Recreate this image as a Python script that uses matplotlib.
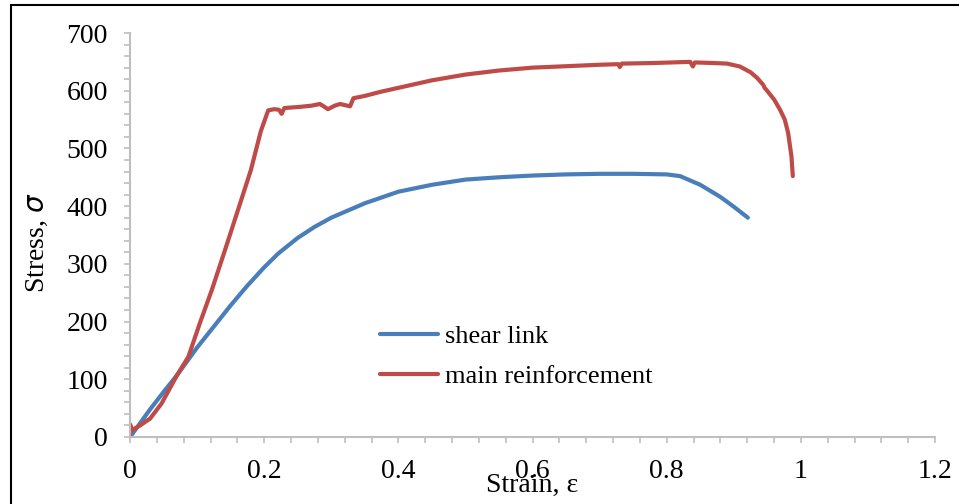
#stress-strain curves for the two steel bars
import matplotlib.pyplot as plt
from matplotlib.patches import Rectangle
from matplotlib.ticker import MultipleLocator

plt.rcParams['font.family'] = ['Liberation Serif', 'DejaVu Serif']

#shear link readings
blue_strain = [0.002, 0.03, 0.05, 0.07, 0.10, 0.124, 0.15, 0.174, 0.20, 0.221, 0.25, 0.275,
               0.30, 0.35, 0.40, 0.45, 0.50, 0.55, 0.60, 0.65, 0.70, 0.75, 0.80, 0.82,
               0.85, 0.88, 0.90, 0.921]
blue_stress = [3, 48, 78, 107, 155, 190, 228, 261, 294, 318, 345, 364,
               380, 405, 425, 437, 446, 450, 453, 455, 456, 456, 455, 452,
               437, 416, 399, 380]

#main reinforcement readings
red_strain = [0, 0, 0.003, 0.015, 0.03, 0.047, 0.07, 0.087, 0.104, 0.122, 0.1416, 0.16, 0.18,
              0.195, 0.206, 0.215, 0.222, 0.226, 0.23, 0.253, 0.27, 0.283, 0.29, 0.295, 0.305,
              0.313, 0.328, 0.333, 0.35, 0.373, 0.40, 0.45, 0.50, 0.55, 0.60, 0.641, 0.70,
              0.728, 0.730, 0.733, 0.78, 0.835, 0.839, 0.842, 0.87, 0.89, 0.909, 0.925, 0.935,
              0.944, 0.946, 0.949, 0.96, 0.969, 0.976, 0.981, 0.986, 0.988]
red_stress = [0, 22, 12, 20, 32, 58, 107, 139, 197, 255, 324, 390, 462,
              530, 566, 568, 567, 560, 570, 572, 574, 577, 572, 568, 574,
              577, 573, 587, 591, 598, 605, 618, 628, 635, 640, 642, 645,
              646, 641, 647, 648, 650, 642, 649, 648, 647, 642, 632, 622,
              610, 605, 601, 585, 567, 550, 527, 486, 452]

fig = plt.figure(figsize=(9.59, 5.04), dpi=100)
ax = fig.add_axes([0.1356, 0.133, 0.8394, 0.8015])

ax.plot(blue_strain, blue_stress, color='#4a7ebb', linewidth=3, label='shear link',
        solid_capstyle='round', solid_joinstyle='round')
ax.plot(red_strain, red_stress, color='#be4b48', linewidth=3, label='main reinforcement',
        solid_capstyle='round', solid_joinstyle='round')

ax.set_xlim(0, 1.2)
ax.set_ylim(0, 700)
ax.xaxis.set_major_locator(MultipleLocator(0.2))
ax.xaxis.set_minor_locator(MultipleLocator(0.04))
ax.yaxis.set_major_locator(MultipleLocator(100))
ax.yaxis.set_minor_locator(MultipleLocator(20))
ax.set_xticks([0, 0.2, 0.4, 0.6, 0.8, 1, 1.2], ['0', '0.2', '0.4', '0.6', '0.8', '1', '1.2'])

for side in ['top', 'right']:
    ax.spines[side].set_visible(False)
for side in ['left', 'bottom']:
    ax.spines[side].set_color('#bfbfbf')
    ax.spines[side].set_linewidth(1.5)

ax.tick_params(which='both', direction='out', length=4, width=1.2, color='#bfbfbf',
               labelsize=20, pad=12)

ax.set_xlabel('Strain, ε', fontsize=20)
ax.set_ylabel('Stress, $\\sigma$', fontsize=20)
ax.xaxis.set_label_coords(0.5, -0.09)
ax.yaxis.set_label_coords(-0.099, 0.48)

ax.legend(loc='upper left', bbox_to_anchor=(0.2975, 0.305), frameon=False, fontsize=19,
          handlelength=2.2, handletextpad=0.27, labelspacing=0.65, borderaxespad=0)

#outer frame, runs off the right and bottom edges
frame = Rectangle((11 / 959, -0.2), 1.2, 1.19, transform=fig.transFigure,
                  fill=False, edgecolor='black', linewidth=1.5, clip_on=False)
fig.patches.append(frame)

fig.savefig('out.png', dpi=100)
